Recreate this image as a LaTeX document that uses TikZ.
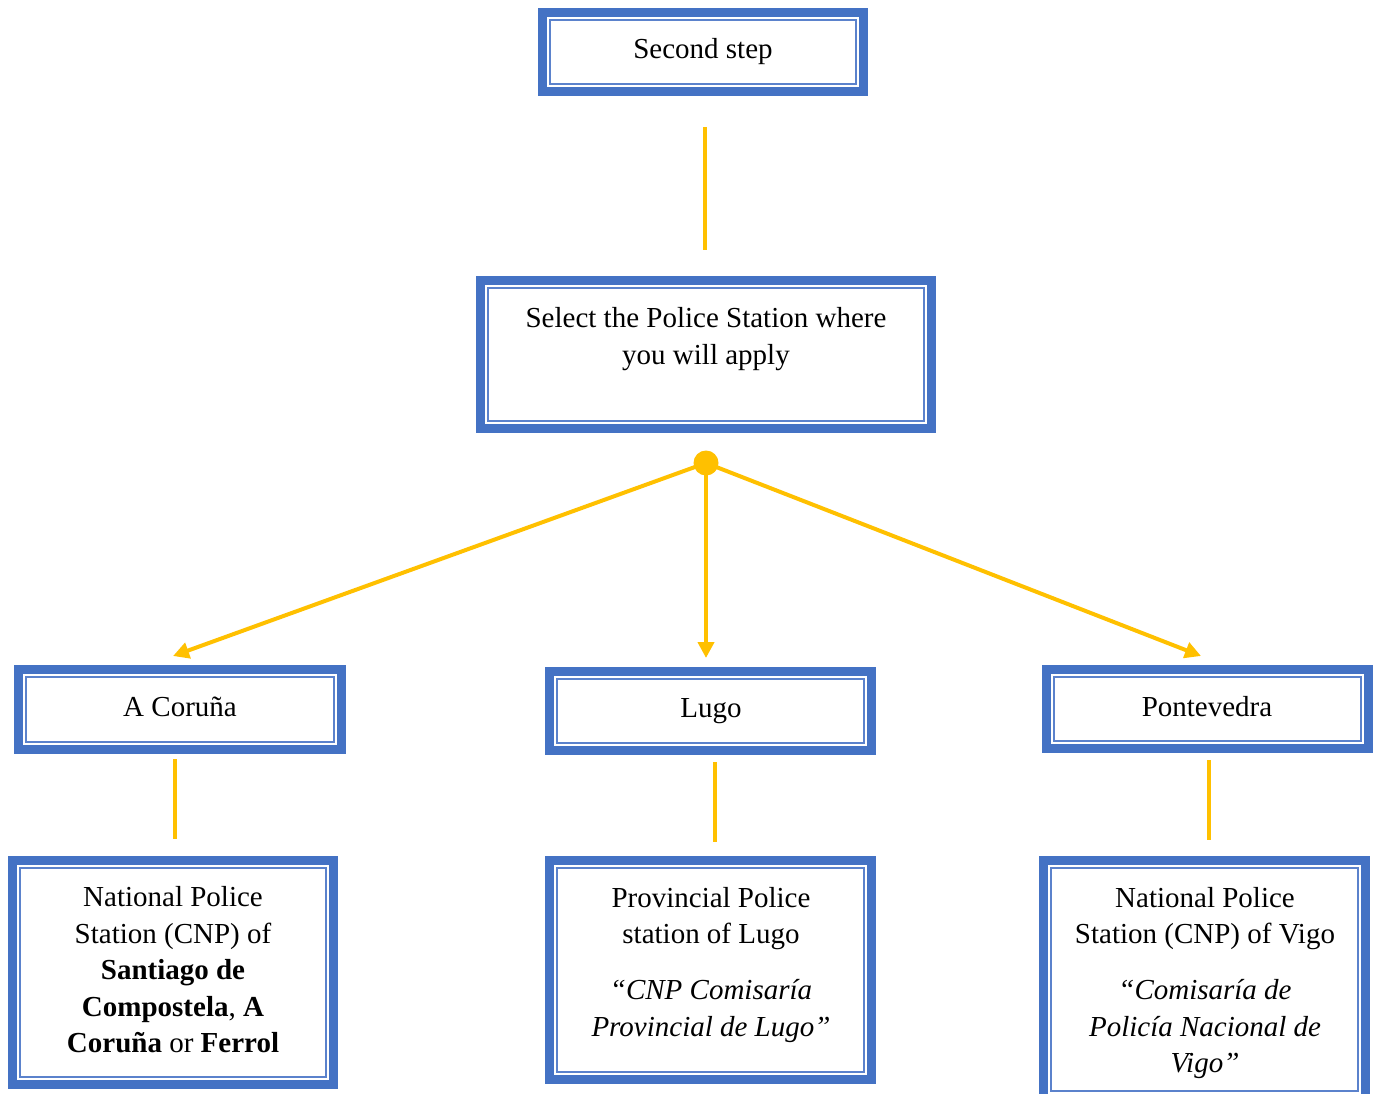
\documentclass[tikz,border=0pt]{standalone}
\usepackage{fontspec}
\setmainfont{Liberation Serif}
\usetikzlibrary{arrows.meta}
\definecolor{boxblue}{HTML}{4472C4}
\definecolor{inblue}{HTML}{5B82CC}
\definecolor{conyellow}{HTML}{FFC000}
\tikzset{
  box/.style={draw=boxblue, line width=9pt, inner sep=0pt, outer sep=0pt, fill=white},
  inbox/.style={draw=inblue, line width=2pt},
  txt/.style={align=center, inner sep=0pt, font=\fontsize{29}{36.5}\selectfont},
  conn/.style={draw=conyellow, line width=4pt},
  arr/.style={conn, -{Triangle[length=16pt,width=16pt]}},
  dotnode/.style={circle, fill=conyellow, inner sep=0pt, minimum size=25pt}
}
\begin{document}
\begin{tikzpicture}[x=1pt,y=-1pt]
\useasboundingbox (0,0) rectangle (1378,1094);
% boxes
\node[box, minimum width=321pt, minimum height=79pt] (b1) at (703,52) {};
\node[box, minimum width=450.5pt, minimum height=147.5pt] (b2) at (705.8,354.3) {};
\node[box, minimum width=322.7pt, minimum height=80pt] (b3) at (179.9,709.5) {};
\node[box, minimum width=322pt, minimum height=79pt] (b4) at (710.5,711) {};
\node[box, minimum width=322pt, minimum height=79pt] (b5) at (1207.5,709) {};
\node[box, minimum width=321pt, minimum height=224pt] (b6) at (173,972.5) {};
\node[box, minimum width=322pt, minimum height=219pt] (b7) at (710.5,970) {};
\node[box, minimum width=322pt, minimum height=238pt] (b8) at (1204.5,979.5) {};
\foreach \b in {b1,b2,b3,b4,b5,b6,b7,b8}{
  \draw[inbox] ([shift={(7.5,7.5)}]\b.north west) rectangle ([shift={(-7.5,-7.5)}]\b.south east);
}
% texts
\node[txt] (t1) at (703,52) {Second step};
\node[txt] (t2) at (706,339) {Select the Police Station where\\ you will apply};
\node[txt] (t3) at (180,707) {A Coruña};
\node[txt] (t4) at (711,711) {Lugo};
\node[txt] (t5) at (1207,707) {Pontevedra};
\node[txt] (t6) at (173,970) {National Police\\ Station (CNP) of\\ \textbf{Santiago de}\\ \textbf{Compostela}, \textbf{A}\\ \textbf{Coruña} or \textbf{Ferrol}};
\node[txt] (t7) at (711,965) {Provincial Police\\ station of Lugo\\[19.5pt] \textit{“CNP Comisaría}\\ \textit{Provincial de Lugo”}};
\node[txt] (t8) at (1205,983) {National Police\\ Station (CNP) of Vigo\\[19.5pt] \textit{“Comisaría de}\\ \textit{Policía Nacional de}\\ \textit{Vigo”}};
% connectors
\coordinate (v1a) at (705,127);
\coordinate (v1b) at (705,250);
\coordinate (v2a) at (175,759);
\coordinate (v2b) at (175,839);
\coordinate (v3a) at (715,762);
\coordinate (v3b) at (715,842);
\coordinate (v4a) at (1209,760);
\coordinate (v4b) at (1209,840);
\coordinate (a1) at (173,656);
\coordinate (a2) at (706,658);
\coordinate (a3) at (1201,656);
\draw[conn] (v1a) -- (v1b);
\draw[conn] (v2a) -- (v2b);
\draw[conn] (v3a) -- (v3b);
\draw[conn] (v4a) -- (v4b);
\node[dotnode] (dot) at (706,463) {};
\draw[arr] (dot.center) -- (a1);
\draw[arr] (dot.center) -- (a2);
\draw[arr] (dot.center) -- (a3);
\end{tikzpicture}
\end{document}
